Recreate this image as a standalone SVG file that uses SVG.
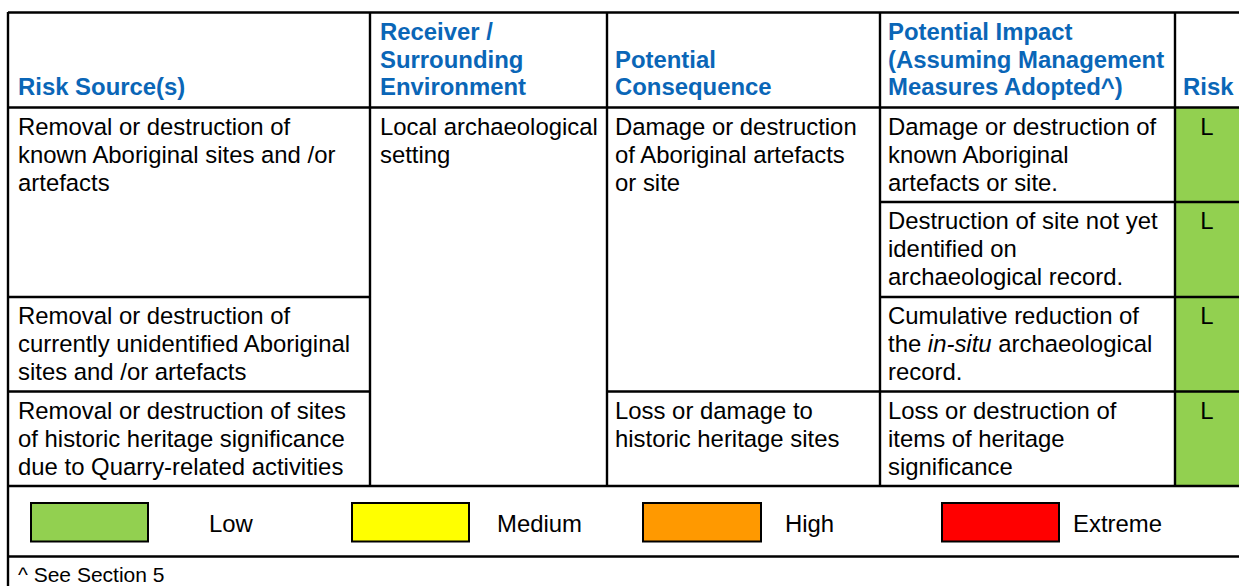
<svg xmlns="http://www.w3.org/2000/svg" width="1239" height="586" viewBox="0 0 1239 586">
<style>
text{font-family:"Liberation Sans",Arial,sans-serif;font-size:23.9px;fill:#000}
.h{font-weight:bold;fill:#0A66B7}
.ln{stroke:#000;stroke-width:2.4;fill:none}
.box{stroke:#000;stroke-width:2}
</style>
<rect x="0" y="0" width="1239" height="586" fill="#fff"/>
<g id="risk-fill">
<rect x="1175" y="107" width="64" height="379" fill="#92D050"/>
</g>
<g id="grid">
<path class="ln" d="M8 12.5H1239 M8 107.5H1239 M8 486H1239 M8 556.5H1239 M8 12V586 M370 12V486 M607 12V486 M880 12V486 M1175 12V486 M880 202H1239 M8 297H370 M880 297H1239 M8 391.5H370 M607 391.5H1239"/>
</g>
<g id="header">
<text class="h" x="18" y="95">Risk Source(s)</text>
<text class="h" x="380" y="40">Receiver /</text>
<text class="h" x="380" y="67.5">Surrounding</text>
<text class="h" x="380" y="95">Environment</text>
<text class="h" x="615" y="67.5">Potential</text>
<text class="h" x="615" y="95">Consequence</text>
<text class="h" x="888" y="40">Potential Impact</text>
<text class="h" x="888" y="67.5">(Assuming Management</text>
<text class="h" x="888" y="95">Measures Adopted^)</text>
<text class="h" x="1183" y="95">Risk</text>
</g>
<g id="risk-source">
<text x="18" y="134.5">Removal or destruction of</text>
<text x="18" y="162.5">known Aboriginal sites and /or</text>
<text x="18" y="190.5">artefacts</text>
<text x="18" y="324">Removal or destruction of</text>
<text x="18" y="352">currently unidentified Aboriginal</text>
<text x="18" y="380">sites and /or artefacts</text>
<text x="18" y="418.5">Removal or destruction of sites</text>
<text x="18" y="446.5">of historic heritage significance</text>
<text x="18" y="474.5">due to Quarry-related activities</text>
</g>
<g id="receiver">
<text x="380" y="134.5">Local archaeological</text>
<text x="380" y="162.5">setting</text>
</g>
<g id="consequence">
<text x="615" y="134.5">Damage or destruction</text>
<text x="615" y="162.5">of Aboriginal artefacts</text>
<text x="615" y="190.5">or site</text>
<text x="615" y="418.5">Loss or damage to</text>
<text x="615" y="446.5">historic heritage sites</text>
</g>
<g id="impact">
<text x="888" y="134.5">Damage or destruction of</text>
<text x="888" y="162.5">known Aboriginal</text>
<text x="888" y="190.5">artefacts or site.</text>
<text x="888" y="229">Destruction of site not yet</text>
<text x="888" y="257">identified on</text>
<text x="888" y="285">archaeological record.</text>
<text x="888" y="324">Cumulative reduction of</text>
<text x="888" y="352">the <tspan font-style="italic">in-situ</tspan> archaeological</text>
<text x="888" y="380">record.</text>
<text x="888" y="418.5">Loss or destruction of</text>
<text x="888" y="446.5">items of heritage</text>
<text x="888" y="474.5">significance</text>
</g>
<g id="risk">
<text x="1207" y="134.5" text-anchor="middle">L</text>
<text x="1207" y="229" text-anchor="middle">L</text>
<text x="1207" y="324" text-anchor="middle">L</text>
<text x="1207" y="418.5" text-anchor="middle">L</text>
</g>
<g id="legend">
<rect class="box" x="31" y="503" width="117" height="38.5" fill="#92D050"/>
<text x="209" y="532">Low</text>
<rect class="box" x="352" y="503" width="117" height="38.5" fill="#FFFF00"/>
<text x="497" y="532">Medium</text>
<rect class="box" x="643" y="503" width="118" height="38.5" fill="#FF9900"/>
<text x="785" y="532">High</text>
<rect class="box" x="942" y="503" width="117" height="38.5" fill="#FF0000"/>
<text x="1073" y="532">Extreme</text>
</g>
<g id="footnote">
<text x="18" y="582" style="font-size:21px">^ See Section 5</text>
</g>
</svg>
